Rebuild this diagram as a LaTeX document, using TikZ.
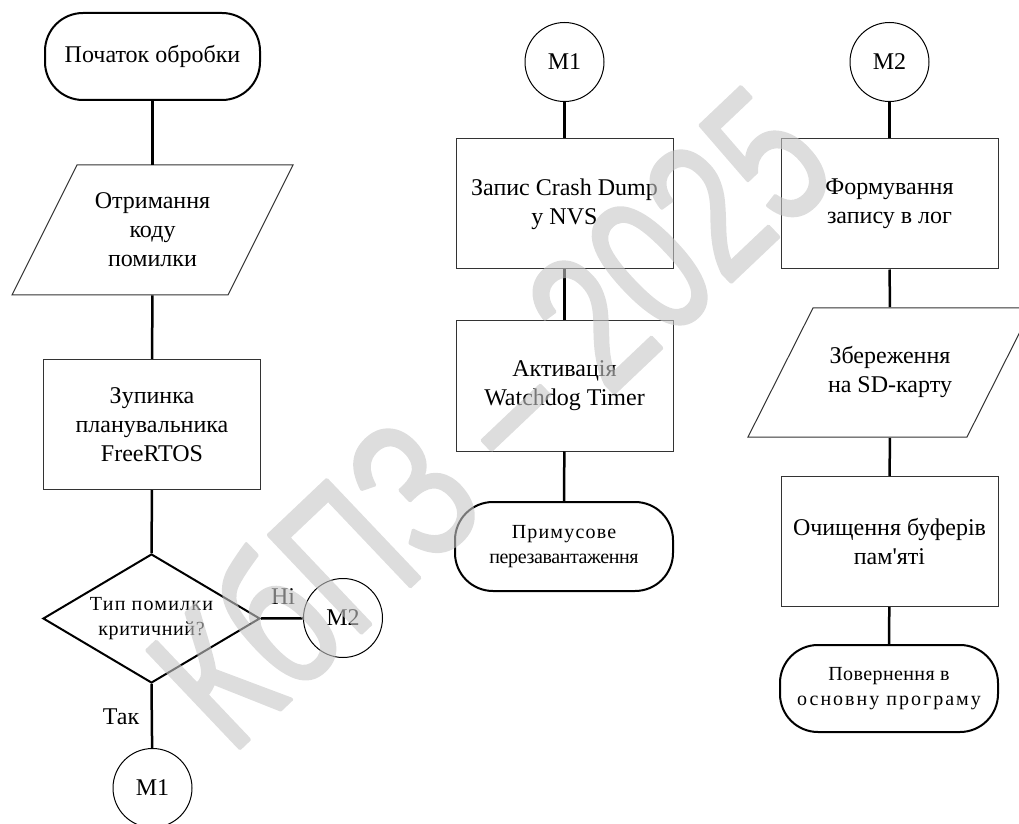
\documentclass[tikz,border=0pt]{standalone}
\usepackage{fontspec}
\setmainfont{Liberation Serif}[Ligatures=TeXOff]
\newfontfamily\spacedfont{Liberation Serif}[Ligatures=TeXOff]
\newfontfamily\wmfont{Liberation Sans}
\usetikzlibrary{shapes.geometric}
\newcommand{\ls}[2]{{\addfontfeature{LetterSpace=#1}#2}}

\begin{document}
\begin{tikzpicture}[x=0.5pt,y=-0.5pt,
  every node/.style={inner sep=0pt},
  conn/.style={line width=1.25pt},
  txt/.style={font=\fontsize{12}{14.5}\selectfont, align=center},
  proc/.style={txt, draw=black!80, line width=0.5pt, minimum width=108.5pt, minimum height=65pt},
  io/.style={txt, minimum width=90pt, minimum height=65pt},
  iobox/.style={draw=black!80, line width=0.5pt},
  term/.style={draw, line width=1pt, rounded corners=19pt, minimum width=109pt, align=center},
  smalltxt/.style={font=\spacedfont\fontsize{10}{12.5}\selectfont},
  conncirc/.style={circle, draw, line width=0.5pt, minimum size=39.5pt, font=\fontsize{12}{14}\selectfont},
  decision/.style={diamond, aspect=1.68, draw, line width=1pt, minimum width=108.5pt, minimum height=64.5pt, align=center},
  lbl/.style={font=\fontsize{12}{14}\selectfont},
  watermark/.style={rotate=43.5, xscale=0.74, text=black!22, font=\wmfont\fontsize{98}{98}\selectfont}
]
\useasboundingbox (0,0) rectangle (1019,824);

% ---------- left column ----------
\node[term, txt, minimum height=43.5pt, minimum width=107.5pt] (start) at (152.5,56.5) {Початок обробки};
\draw[iobox] (77,165) -- (293,165) -- (228,295) -- (12,295) -- cycle;
\node[io] (in1) at (152.5,230) {Отримання\\коду\\помилки};
\node[proc] (stop) at (152,424.5) {Зупинка\\планувальника\\FreeRTOS};
\node[decision, smalltxt] (dec) at (151.5,618.5) {\ls{6}{Тип помилки}\\\ls{3}{критичний?}};
\node[conncirc] (m2a) at (343,618) {M2};
\node[conncirc] (m1a) at (152.5,788) {M1};
\node[lbl] (no) at (283,597) {Ні};
\node[lbl] (yes) at (121,717) {Так};

\draw[conn] (start) -- (in1);
\draw[conn] (in1) -- (stop);
\draw[conn] (stop) -- (dec);
\draw[conn] (dec.east) -- (m2a);
\draw[conn] (dec.south) -- (m1a);

% ---------- middle column ----------
\node[conncirc] (m1b) at (564.5,62) {M1};
\node[proc] (dump) at (564.5,204) {Запис Crash Dump\\у NVS};
\node[proc] (wdt) at (564.5,386) {Активація\\Watchdog Timer};
\node[term, smalltxt, minimum height=44.5pt] (reboot) at (564,546.5) {\ls{6}{Примусове}\\\ls{-2}{перезавантаження}};

\draw[conn] (m1b) -- (dump);
\draw[conn] (dump) -- (wdt);
\draw[conn] (wdt) -- (reboot);

% ---------- right column ----------
\node[conncirc] (m2b) at (889.5,62) {M2};
\node[proc] (log) at (889.5,204) {Формування\\запису в лог};
\draw[iobox] (813,308) -- (1032,308) -- (967,437) -- (748,437) -- cycle;
\node[io] (sd) at (890,372.5) {Збереження\\на SD-карту};
\node[proc] (clear) at (889.5,541.5) {Очищення буферів\\пам'яті};
\node[term, smalltxt, minimum height=43.5pt] (ret) at (889,688.5) {\ls{2}{Повернення в}\\\ls{10}{основну програму}};

\draw[conn] (m2b) -- (log);
\draw[conn] (log) -- (sd);
\draw[conn] (sd) -- (clear);
\draw[conn] (clear) -- (ret);

% ---------- watermark ----------
\begin{scope}[transparency group, opacity=0.6]
\node[watermark] (wm) at (488,415) {\special{pdf:literal direct 2 Tr 1.8 w 1 J 1 j}КбПЗ – 2025\special{pdf:literal direct 0 Tr}};
\end{scope}
\end{tikzpicture}
\end{document}
